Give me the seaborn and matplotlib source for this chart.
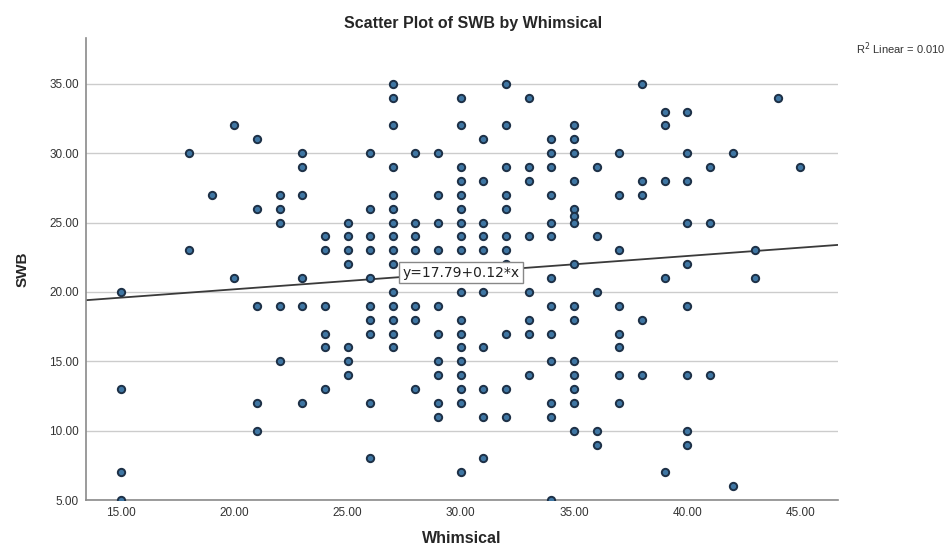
import numpy as np
import pandas as pd
import seaborn as sns
import matplotlib.pyplot as plt

# values (one line per Whimsical value)
whimsical = [
    15, 15, 15, 15,
    18, 18,
    19,
    20, 20,
    21, 21, 21, 21, 21,
    22, 22, 22, 22, 22,
    23, 23, 23, 23, 23, 23,
    24, 24, 24, 24, 24, 24,
    25, 25, 25, 25, 25, 25, 25,
    26, 26, 26, 26, 26, 26, 26, 26, 26, 26,
    27, 27, 27, 27, 27, 27, 27, 27, 27, 27, 27, 27, 27, 27, 27,
    28, 28, 28, 28, 28, 28, 28,
    29, 29, 29, 29, 29, 29, 29, 29, 29, 29,
    30, 30, 30, 30, 30, 30, 30, 30, 30, 30, 30, 30, 30, 30, 30, 30, 30, 30,
    31, 31, 31, 31, 31, 31, 31, 31, 31, 31,
    32, 32, 32, 32, 32, 32, 32, 32, 32, 32, 32,
    33, 33, 33, 33, 33, 33, 33, 33,
    34, 34, 34, 34, 34, 34, 34, 34, 34, 34, 34, 34, 34,
    35, 35, 35, 35, 35, 35, 35, 35, 35, 35, 35, 35, 35, 35, 35,
    36, 36, 36, 36, 36,
    37, 37, 37, 37, 37, 37, 37, 37,
    38, 38, 38, 38, 38,
    39, 39, 39, 39, 39,
    40, 40, 40, 40, 40, 40, 40, 40, 40,
    41, 41, 41,
    42, 42,
    43, 43,
    44,
    45,
]
swb = [
    20, 13, 7, 5,
    30, 23,
    27,
    32, 21,
    31, 26, 19, 12, 10,
    27, 26, 25, 19, 15,
    30, 29, 27, 21, 19, 12,
    24, 23, 19, 17, 16, 13,
    25, 24, 23, 22, 16, 15, 14,
    30, 26, 24, 23, 21, 19, 18, 17, 12, 8,
    35, 34, 32, 29, 27, 26, 25, 24, 23, 22, 20, 19, 18, 17, 16,
    30, 25, 24, 23, 19, 18, 13,
    30, 27, 25, 23, 19, 17, 15, 14, 12, 11,
    34, 32, 29, 28, 27, 26, 25, 24, 23, 20, 18, 17, 16, 15, 14, 13, 12, 7,
    31, 28, 25, 24, 23, 20, 16, 13, 11, 8,
    35, 32, 29, 27, 26, 24, 23, 22, 17, 13, 11,
    34, 29, 28, 24, 20, 18, 17, 14,
    31, 30, 29, 27, 25, 24, 21, 19, 17, 15, 12, 11, 5,
    32, 31, 30, 28, 26, 25.5, 25, 22, 19, 18, 15, 14, 13, 12, 10,
    29, 24, 20, 10, 9,
    30, 27, 23, 19, 17, 16, 14, 12,
    35, 28, 27, 18, 14,
    33, 32, 28, 21, 7,
    33, 30, 28, 25, 22, 19, 14, 10, 9,
    29, 25, 14,
    30, 6,
    23, 21,
    34,
    29,
]

# fit line as reported by SPSS
intercept = 17.79
slope = 0.12
r2_text = "R$^2$ Linear = 0.010"

x_ticks = [15, 20, 25, 30, 35, 40, 45]
y_ticks = [5, 10, 15, 20, 25, 30, 35]

df = pd.DataFrame({"Whimsical": whimsical, "SWB": swb})

sns.set_style("white")
plt.rcParams["font.family"] = ["DejaVu Sans Condensed", "Liberation Sans", "DejaVu Sans"]

fig = plt.figure(figsize=(9.51, 5.55), dpi=100)
ax = fig.add_axes([0.0904, 0.099, 0.7906, 0.8325])

xlim = (13.45, 46.65)
ylim = (5.0, 38.3)

ax.set_axisbelow(True)
ax.yaxis.grid(True, color="#cccccc", linewidth=1.0)
ax.xaxis.grid(False)

xs = np.array(xlim)
ax.plot(xs, intercept + slope * xs, color="#3a3a3a", linewidth=1.3, zorder=2)

sns.scatterplot(
    data=df, x="Whimsical", y="SWB", ax=ax, s=28,
    color="#3f76a3", edgecolor="#1d3046", linewidth=1.4, zorder=3, clip_on=True,
)

lx = 30
ax.text(lx, intercept + slope * lx, "y=17.79+0.12*x", ha="center", va="center",
        fontsize=10, color="#222222", family=["DejaVu Sans"], zorder=5,
        bbox=dict(boxstyle="square,pad=0.25", facecolor="white", edgecolor="#888888", linewidth=1))

ax.set_xlim(*xlim)
ax.set_ylim(*ylim)
ax.set_xticks(x_ticks)
ax.set_yticks(y_ticks)
ax.set_xticklabels([f"{v:.2f}" for v in x_ticks])
ax.set_yticklabels([f"{v:.2f}" for v in y_ticks])
ax.tick_params(axis="both", labelsize=8.5, colors="#333333", length=0, pad=5)

for side in ["top", "right"]:
    ax.spines[side].set_visible(False)
for side in ["left", "bottom"]:
    ax.spines[side].set_color("#8a8a8a")
    ax.spines[side].set_linewidth(1.2)

ax.set_xlabel("Whimsical", fontsize=11.5, fontweight="bold", labelpad=9)
ax.set_ylabel("SWB", fontsize=11, fontweight="bold", labelpad=14)

fig.text(0.497, 0.957, "Scatter Plot of SWB by Whimsical", ha="center", va="center",
         fontsize=11.5, fontweight="bold")
fig.text(0.994, 0.913, r2_text, ha="right", va="center", fontsize=8, color="#333333")

fig.savefig("out.png", dpi=100)
